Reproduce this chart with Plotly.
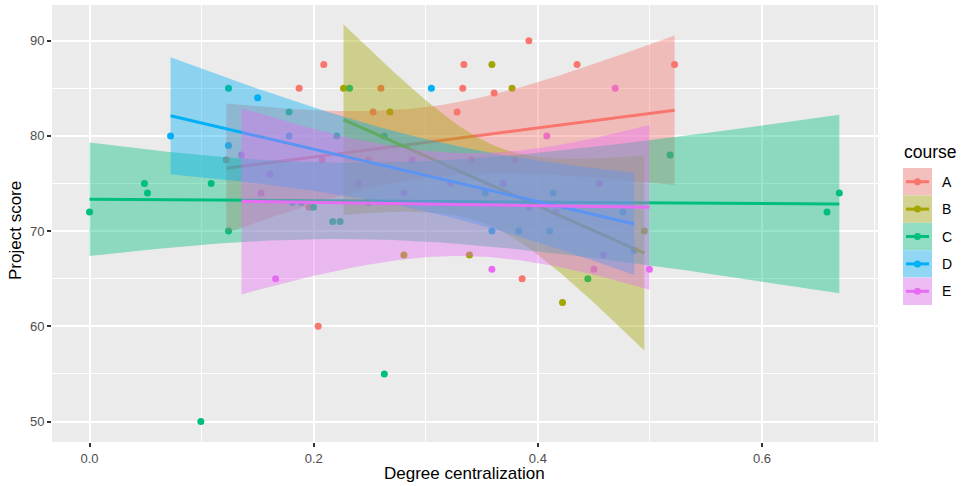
import numpy as np
import plotly.graph_objects as go

# ---------------- data ----------------
courses = ["A", "B", "C", "D", "E"]
colors = ["#F8766D", "#A3A500", "#00BF7D", "#00B0F6", "#E76BF3"]

A_x = [0.187, 0.209, 0.334, 0.392, 0.435, 0.522, 0.260, 0.333, 0.361, 0.253, 0.328, 0.122, 0.2075, 0.196, 0.386, 0.204, 0.249, 0.341, 0.379]
A_y = [85, 87.5, 87.5, 90, 87.5, 87.5, 85, 85, 84.5, 82.5, 82.5, 77.5, 77.5, 72.5, 65, 60, 77.5, 77.5, 77.5]
B_x = [0.2266, 0.359, 0.377, 0.268, 0.339, 0.2805, 0.422, 0.495]
B_y = [85, 87.5, 85, 82.5, 67.5, 67.5, 62.5, 70]
C_x = [0.0, 0.049, 0.0517, 0.0993, 0.1085, 0.124, 0.124, 0.232, 0.263, 0.4446, 0.518, 0.658, 0.669, 0.178, 0.2206, 0.263, 0.1998, 0.217, 0.2236]
C_y = [72, 75, 74, 50, 75, 70, 85, 85, 55, 65, 78, 72, 74, 82.5, 80, 80, 72.5, 71, 71]
D_x = [0.0723, 0.124, 0.15, 0.305, 0.486, 0.178, 0.353, 0.4137, 0.476, 0.359, 0.383, 0.4106, 0.181, 0.189, 0.249]
D_y = [80, 79, 84, 85, 68, 80, 74, 74, 72, 70, 70, 70, 73, 73, 73]
E_x = [0.1356, 0.161, 0.166, 0.359, 0.408, 0.45, 0.4996, 0.469, 0.455, 0.288, 0.2807, 0.369, 0.3925, 0.24, 0.153, 0.322, 0.416, 0.4585]
E_y = [78, 76, 65, 66, 80, 66, 66, 85, 75, 77.5, 74, 75, 72.5, 75, 74, 75, 72, 67.5]

# linear fit lines and 95% band half-widths
fit_x_start = [0.122, 0.2266, 0.0, 0.0723, 0.1356]
fit_x_end = [0.522, 0.495, 0.669, 0.486, 0.4996]
fit_y_start = [76.6, 81.7, 73.34, 82.12, 73.13]
fit_y_end = [82.7, 67.7, 72.85, 70.75, 72.5]
band_hw_start = [6.8, 10.0, 5.96, 6.14, 9.78]
band_hw_end = [7.85, 10.25, 9.37, 5.35, 8.65]
band_hw_min = [3.7, 4.3, 4.0, 3.8, 5.4]

x_tick_vals = [0.0, 0.2, 0.4, 0.6]
x_tick_text = ["0.0", "0.2", "0.4", "0.6"]
y_tick_vals = [50, 60, 70, 80, 90]
y_tick_text = ["50", "60", "70", "80", "90"]

xs = [A_x, B_x, C_x, D_x, E_x]
ys = [A_y, B_y, C_y, D_y, E_y]

# ---------------- figure ----------------
W, H = 961, 486
PL, PR, PT, PB = 52, 878, 5, 442


def rgba(hexc, a):
    h = hexc.lstrip("#")
    return "rgba(%d,%d,%d,%.2f)" % (int(h[0:2], 16), int(h[2:4], 16), int(h[4:6], 16), a)


def px(xp):
    return (xp - PL) / (PR - PL)


def py(yp):
    return (PB - yp) / (PB - PT)


fig = go.Figure()

# points
for i, c in enumerate(courses):
    fig.add_trace(go.Scatter(x=xs[i], y=ys[i], mode="markers",
                             marker=dict(color=colors[i], size=7, line=dict(width=0)),
                             showlegend=False, hoverinfo="skip"))

# ribbons + lines
for i, c in enumerate(courses):
    xL, xR = fit_x_start[i], fit_x_end[i]
    w0 = band_hw_min[i]
    aL = np.sqrt(max(band_hw_start[i] ** 2 - w0 ** 2, 1e-9))
    aR = np.sqrt(max(band_hw_end[i] ** 2 - w0 ** 2, 1e-9))
    dL = (xR - xL) * aL / (aL + aR)
    xc = xL + dL
    k = aL / dL
    xg = np.linspace(xL, xR, 80)
    fit = fit_y_start[i] + (fit_y_end[i] - fit_y_start[i]) * (xg - xL) / (xR - xL)
    hw = np.sqrt(w0 ** 2 + (k * (xg - xc)) ** 2)
    up = fit + hw
    lo = fit - hw
    fig.add_trace(go.Scatter(x=np.concatenate([xg, xg[::-1]]), y=np.concatenate([up, lo[::-1]]),
                             fill="toself", fillcolor=rgba(colors[i], 0.4), line=dict(width=0),
                             mode="lines", showlegend=False, hoverinfo="skip"))
    fig.add_trace(go.Scatter(x=[xL, xR], y=[fit_y_start[i], fit_y_end[i]], mode="lines",
                             line=dict(color=colors[i], width=3), showlegend=False, hoverinfo="skip"))

# legend (drawn manually, ggplot style)
shapes = []
annotations = []
key_x0, key_x1 = 903, 932
key_top, key_h = 168, 27.4
for i, c in enumerate(courses):
    y0 = key_top + i * key_h
    y1 = y0 + key_h
    shapes.append(dict(type="rect", xref="paper", yref="paper", x0=px(key_x0), x1=px(key_x1),
                       y0=py(y1), y1=py(y0), fillcolor="#F2F2F2", line=dict(width=0), layer="above"))
    shapes.append(dict(type="rect", xref="paper", yref="paper", x0=px(key_x0), x1=px(key_x1),
                       y0=py(y1), y1=py(y0), fillcolor=rgba(colors[i], 0.4), line=dict(width=0), layer="above"))
    ym = (y0 + y1) / 2
    shapes.append(dict(type="line", xref="paper", yref="paper", x0=px(906), x1=px(929),
                       y0=py(ym), y1=py(ym), line=dict(color=colors[i], width=3), layer="above"))
    shapes.append(dict(type="circle", xref="paper", yref="paper", x0=px(914), x1=px(921),
                       y0=py(ym + 3.5), y1=py(ym - 3.5), fillcolor=colors[i], line=dict(width=0), layer="above"))
    annotations.append(dict(text=c, xref="paper", yref="paper", x=px(940), y=py(ym), xanchor="left",
                            yanchor="middle", showarrow=False, font=dict(size=14, color="#000000")))

annotations.append(dict(text="course", xref="paper", yref="paper", x=px(902), y=py(152), xanchor="left",
                        yanchor="middle", showarrow=False, font=dict(size=17.5, color="#000000")))
annotations.append(dict(text="Degree centralization", xref="paper", yref="paper", x=px(464), y=py(473),
                        xanchor="center", yanchor="middle", showarrow=False, font=dict(size=17, color="#000000")))
annotations.append(dict(text="Project score", xref="paper", yref="paper", x=px(15), y=py(231),
                        xanchor="center", yanchor="middle", showarrow=False, textangle=-90,
                        font=dict(size=17, color="#000000")))

fig.update_layout(
    width=W, height=H,
    margin=dict(l=PL, r=W - PR, t=PT, b=H - PB),
    paper_bgcolor="white", plot_bgcolor="#EBEBEB",
    font=dict(family="Liberation Sans, Arial, sans-serif"),
    showlegend=False,
    shapes=shapes, annotations=annotations,
)
fig.update_xaxes(range=[-0.0335, 0.7035], tickvals=x_tick_vals, ticktext=x_tick_text,
                 showgrid=True, gridcolor="white", gridwidth=2, zeroline=False,
                 ticks="outside", ticklen=4, tickwidth=1.5, tickcolor="#333333",
                 tickfont=dict(size=13, color="#4D4D4D"), showline=False,
                 minor=dict(tickvals=[0.1, 0.3, 0.5, 0.7], showgrid=True, gridcolor="white", gridwidth=1, ticks=""))
fig.update_yaxes(range=[47.85, 93.75], tickvals=y_tick_vals, ticktext=y_tick_text,
                 showgrid=True, gridcolor="white", gridwidth=2, zeroline=False,
                 ticks="outside", ticklen=4, tickwidth=1.5, tickcolor="#333333",
                 tickfont=dict(size=13, color="#4D4D4D"), showline=False,
                 minor=dict(tickvals=[55, 65, 75, 85], showgrid=True, gridcolor="white", gridwidth=1, ticks=""))

fig.write_html("out.html", config={"displayModeBar": False},
               post_script="document.body.style.margin='0';document.body.style.padding='0';")
